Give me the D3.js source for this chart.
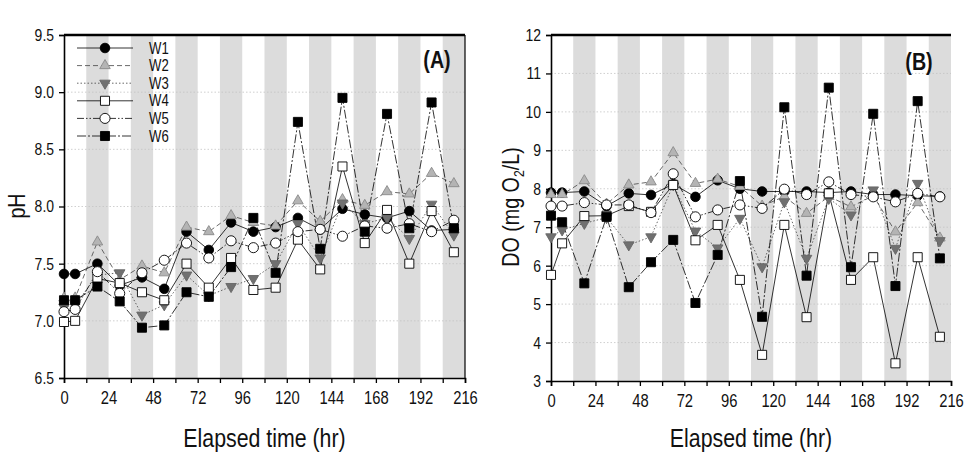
<!DOCTYPE html>
<html><head><meta charset="utf-8">
<script src="https://cdn.jsdelivr.net/npm/d3@7"></script>
<style>
body{margin:0;background:#fff}
svg{display:block}
text{font-family:"Liberation Sans",Arial,sans-serif;fill:#111}
</style></head>
<body>
<script>
// ---- DATA ----
const time = [0,6,18,30,42,54,66,78,90,102,114,126,138,150,162,174,186,198,210];
const seriesNames = ["W1","W2","W3","W4","W5","W6"];
const nightStarts = [12,36,60,84,108,132,156,180,204];
const xTicks = [0,24,48,72,96,120,144,168,192,216];
const pHTicks = [6.5,7.0,7.5,8.0,8.5,9.0,9.5];
const doTicks = [3,4,5,6,7,8,9,10,11,12];

const pH_W1 = [7.41,7.41,7.50,7.31,7.38,7.28,7.78,7.62,7.86,7.78,7.82,7.90,7.80,7.98,7.93,7.90,7.96,7.79,7.80];
const pH_W2 = [7.20,7.20,7.69,7.36,7.48,7.42,7.82,7.78,7.92,7.86,7.83,8.05,7.87,8.06,8.01,8.13,8.11,8.29,8.20];
const pH_W3 = [7.12,7.14,7.40,7.42,7.05,7.14,7.40,7.22,7.30,7.37,7.50,7.85,7.55,8.03,7.85,7.90,7.72,8.02,7.75];
const pH_W4 = [6.99,7.00,7.37,7.33,7.25,7.18,7.50,7.29,7.55,7.27,7.29,7.71,7.45,8.35,7.68,7.97,7.50,7.96,7.60];
const pH_W5 = [7.08,7.10,7.43,7.24,7.42,7.53,7.68,7.55,7.70,7.64,7.68,7.78,7.80,7.74,7.83,7.81,7.85,7.78,7.88];
const pH_W6 = [7.18,7.18,7.30,7.17,6.94,6.96,7.25,7.21,7.47,7.90,7.42,8.74,7.63,8.95,7.78,8.81,7.81,8.91,7.81];

const DO_W1 = [7.90,7.90,7.93,7.55,7.88,7.84,8.12,7.79,8.22,8.00,7.93,7.93,7.93,7.90,7.93,7.85,7.85,7.82,7.80];
const DO_W2 = [7.85,7.85,8.21,7.60,8.10,8.18,8.94,8.14,8.25,8.06,7.55,7.80,7.36,7.80,7.53,7.82,6.88,7.64,6.72];
const DO_W3 = [6.75,6.93,7.10,7.25,6.54,6.75,8.10,6.90,6.46,7.23,5.97,7.66,6.19,7.75,7.32,7.97,6.45,8.14,6.65];
const DO_W4 = [5.76,6.58,7.29,7.30,7.55,7.40,8.10,6.66,7.06,5.63,3.68,7.06,4.66,7.88,5.63,6.22,3.46,6.22,4.15];
const DO_W5 = [7.55,7.55,7.64,7.58,7.58,7.38,8.39,7.27,7.45,7.58,7.49,7.99,7.85,8.18,7.85,7.79,7.66,7.88,7.79];
const DO_W6 = [7.30,7.13,5.54,7.27,5.44,6.09,6.67,5.03,6.28,8.20,4.67,10.12,5.74,10.63,5.96,9.95,5.47,10.28,6.19];

// ---- STYLES ----
const styles = {
  W1:{sym:d3.symbolCircle, size:72, fill:"#000", stroke:"#000", dash:null, lc:"#000"},
  W2:{sym:d3.symbolTriangle, size:48, fill:"#b4b4b4", stroke:"#8a8a8a", dash:"5,3", lc:"#444"},
  W3:{sym:d3.symbolTriangle, size:48, fill:"#707070", stroke:"#666", dash:"1.5,2", lc:"#444", rot:180},
  W4:{sym:d3.symbolSquare, size:82, fill:"#fff", stroke:"#000", dash:null, lc:"#000"},
  W5:{sym:d3.symbolCircle, size:80, fill:"#fff", stroke:"#000", dash:"7,2,1.5,2,1.5,2", lc:"#000"},
  W6:{sym:d3.symbolSquare, size:82, fill:"#000", stroke:"#000", dash:"9,2,2,2", lc:"#000"}
};

const W = 968, H = 458;
const svg = d3.select("body").append("svg").attr("width", W).attr("height", H);

function panel(cfg){
  const x = d3.scaleLinear([0,216],[cfg.x0,cfg.x1]);
  const y = d3.scaleLinear(cfg.ydom,[cfg.y0,cfg.y1]);
  const g = svg.append("g");
  g.selectAll("rect.band").data(nightStarts).join("rect")
    .attr("x", d=>x(d)).attr("width", d=>x(d+12)-x(d))
    .attr("y", y(cfg.ydom[1])).attr("height", y(cfg.ydom[0])-y(cfg.ydom[1]))
    .attr("fill","#dcdcdc");
  g.selectAll("line.grid").data(cfg.yticks.slice(1,-1)).join("line")
    .attr("x1", x(0)).attr("x2", x(216)).attr("y1", d=>y(d)).attr("y2", d=>y(d))
    .attr("stroke","#c4c4c4").attr("stroke-width",0.8).attr("stroke-dasharray","1.5,2");
  g.append("line").attr("x1",x(0)).attr("x2",x(216)).attr("y1",y(cfg.ydom[1])).attr("y2",y(cfg.ydom[1]))
    .attr("stroke","#000").attr("stroke-width",2.5);
  if(cfg.rightBorder){
    g.append("line").attr("x1",x(216)).attr("x2",x(216)).attr("y1",y(cfg.ydom[1])).attr("y2",y(cfg.ydom[0]))
      .attr("stroke","#000").attr("stroke-width",1.2);
  }
  const xa = g.append("g").attr("transform",`translate(0,${y(cfg.ydom[0])})`)
    .call(d3.axisBottom(x).tickValues(d3.range(0,217,12)).tickSize(5).tickPadding(8)
      .tickFormat(d => xTicks.includes(d) ? d : ""));
  xa.select(".domain").attr("stroke-width",1.6);
  xa.selectAll(".tick line").attr("stroke-width",1.3);
  xa.selectAll("text").attr("font-size",18).style("font-family",null);
  const ya = g.append("g").attr("transform",`translate(${x(0)},0)`)
    .call(d3.axisLeft(y).tickValues(cfg.yticks).tickSize(5).tickPadding(5).tickFormat(cfg.yfmt));
  ya.select(".domain").attr("stroke-width",1.6);
  ya.selectAll(".tick line").attr("stroke-width",1.3);
  ya.selectAll("text").attr("font-size",17).style("font-family",null);
  svg.selectAll(".tick text").attr("fill","#111");
  svg.selectAll(".domain, .tick line").attr("stroke","#000");

  const line = d3.line().x((d,i)=>x(time[i])).y(d=>y(d));
  cfg.data.forEach((vals,k)=>{
    const s = styles[seriesNames[k]];
    g.append("path").attr("d", line(vals)).attr("fill","none")
      .attr("stroke", s.lc).attr("stroke-width",0.8)
      .attr("stroke-dasharray", s.dash);
  });
  cfg.data.forEach((vals,k)=>{
    const s = styles[seriesNames[k]];
    g.selectAll(null).data(vals).join("path")
      .attr("d", d3.symbol().type(s.sym).size(s.size))
      .attr("transform",(d,i)=>`translate(${x(time[i])},${y(d)})${s.rot?" rotate(180)":""}`)
      .attr("fill", s.fill).attr("stroke", s.stroke).attr("stroke-width",0.9);
  });
  g.append("text").attr("x",cfg.labX).attr("y",cfg.labY).attr("font-size",24)
    .attr("font-weight","bold").attr("text-anchor","middle").text(cfg.label);
  g.append("text").attr("x",(x(0)+x(216))/2).attr("y",447).attr("font-size",26)
    .attr("text-anchor","middle").text("Elapsed time (hr)");
  return {x,y,g};
}

panel({x0:64,x1:465,y0:378,y1:35,ydom:[6.5,9.5],yticks:pHTicks,yfmt:d3.format(".1f"),
  data:[pH_W1,pH_W2,pH_W3,pH_W4,pH_W5,pH_W6],rightBorder:true,label:"(A)",labX:437,labY:68});
panel({x0:551,x1:951,y0:381,y1:35,ydom:[3,12],yticks:doTicks,yfmt:d3.format("d"),
  data:[DO_W1,DO_W2,DO_W3,DO_W4,DO_W5,DO_W6],rightBorder:false,label:"(B)",labX:919,labY:70});

svg.append("text").attr("transform","translate(25,206) rotate(-90)").attr("font-size",24)
  .attr("text-anchor","middle").text("pH");
const dl = svg.append("text").attr("transform","translate(519,207) rotate(-90)").attr("font-size",24)
  .attr("text-anchor","middle");
dl.append("tspan").text("DO (mg O");
dl.append("tspan").attr("font-size",15).attr("dy",5).text("2");
dl.append("tspan").attr("dy",-5).text("/L)");

const leg = svg.append("g");
seriesNames.forEach((n,i)=>{
  const s = styles[n];
  const yy = 48 + i*17.6;
  leg.append("line").attr("x1",77).attr("x2",133).attr("y1",yy).attr("y2",yy)
    .attr("stroke",s.lc).attr("stroke-width",0.8).attr("stroke-dasharray",s.dash);
  leg.append("path").attr("d",d3.symbol().type(s.sym).size(s.size))
    .attr("transform",`translate(105,${yy})${s.rot?" rotate(180)":""}`)
    .attr("fill",s.fill).attr("stroke",s.stroke).attr("stroke-width",0.9);
  leg.append("text").attr("x",149).attr("y",yy+5.5).attr("font-size",16).attr("fill","#444").text(n);
});

// condense all text horizontally (Arial Narrow look)
svg.selectAll("text").each(function(){
  const w = this.getComputedTextLength();
  if (w > 0) d3.select(this).attr("textLength", w*0.82).attr("lengthAdjust","spacingAndGlyphs");
});
</script>
</body></html>
